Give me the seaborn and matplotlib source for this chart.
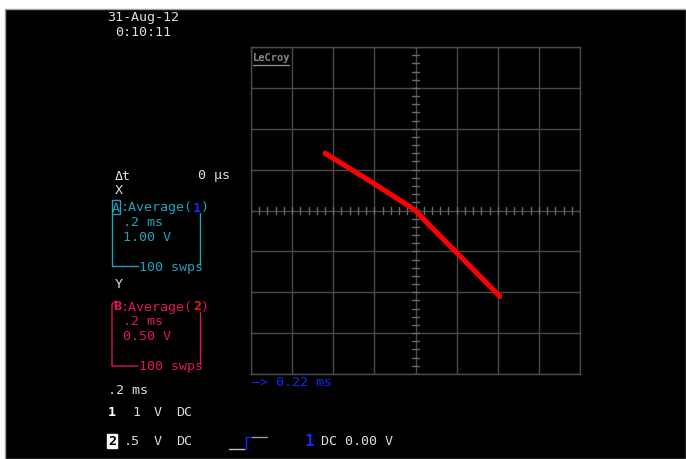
import numpy as np
import pandas as pd
import matplotlib.pyplot as plt
from matplotlib.lines import Line2D
from matplotlib.patches import Rectangle
import seaborn as sns

# XY trace: channel 1 (1 V/div) on X, channel 2 (0.5 V/div) on Y
ch1_volts = [-2.20, -1.20, -0.30, 0.0, 0.34, 0.99, 2.05]
ch2_volts = [0.70, 0.39, 0.10, 0.0, -0.18, -0.51, -1.05]

volts_per_div_x = 1.0
volts_per_div_y = 0.5
n_div = 8

W, H = 686, 460
white = '#dcdcdc'
teal = '#1ea3b8'
pink = '#e0145f'
blue = '#1428ff'
grid_col = '#4a4a4a'

sns.set_style('dark')
fig = plt.figure(figsize=(W / 100, H / 100), dpi=100)
fig.patch.set_facecolor('white')

# black screen
fig.patches.append(Rectangle((5 / W, 0), 1 - 5 / W, 1 - 10 / H, transform=fig.transFigure,
                             facecolor='black', edgecolor='#a0a0a0', lw=1, zorder=-5))

ax = fig.add_axes([251 / W, 1 - 375 / H, 329 / W, 327 / H])
ax.set_zorder(2)
ax.set_facecolor('black')

df = pd.DataFrame({'x': ch1_volts, 'y': ch2_volts})
sns.lineplot(data=df, x='x', y='y', sort=False, estimator=None, color='#ff0000',
             lw=3.7, ax=ax, zorder=5)

xr = n_div / 2 * volts_per_div_x
yr = n_div / 2 * volts_per_div_y
ax.set_xlim(-xr, xr)
ax.set_ylim(-yr, yr)
ax.set_xticks(np.arange(-xr, xr + 0.01, volts_per_div_x))
ax.set_yticks(np.arange(-yr, yr + 0.01, volts_per_div_y))
ax.grid(True, color=grid_col, lw=1)
ax.tick_params(length=0, labelbottom=False, labelleft=False)
ax.set_xlabel('')
ax.set_ylabel('')
for s in ax.spines.values():
    s.set_visible(True)
    s.set_color(grid_col)
    s.set_linewidth(1)

# minor ticks on centre cross
tx = 0.035 * volts_per_div_x * 2.5
ty = 0.035 * volts_per_div_y * 2.5
for v in np.arange(-xr, xr + 0.01, volts_per_div_x / 5):
    ax.plot([v, v], [-ty, ty], color='#6a6a6a', lw=1, zorder=2)
for v in np.arange(-yr, yr + 0.01, volts_per_div_y / 5):
    ax.plot([-tx, tx], [v, v], color='#6a6a6a', lw=1, zorder=2)

ax.text(0.006, 0.985, 'LeCroy', transform=ax.transAxes, color='#8a8a8a', fontsize=7.5,
        family='DejaVu Sans Mono', weight='bold', va='top', ha='left')
ax.plot([0.006, 0.115], [0.945, 0.945], transform=ax.transAxes, color='#8a8a8a', lw=1)

mono = 'DejaVu Sans Mono'
fs = 9.6


def txt(x, y, s, color=white, **kw):
    kw.setdefault('fontsize', fs)
    fig.text(x / W, 1 - y / H, s, color=color, family=mono, va='center', ha='left', **kw)


def line(xs, ys, color):
    fig.lines.append(Line2D([x / W for x in xs], [1 - y / H for y in ys],
                            transform=fig.transFigure, color=color, lw=1))


txt(107, 17, '31-Aug-12')
txt(115, 32, '0:10:11')
txt(115, 176, 'Δt')
txt(198, 176, '0 μs')
txt(115, 190, 'X')

# channel A block
txt(112, 208, 'A', color=teal, bbox=dict(boxstyle='square,pad=0.02', fc='black', ec=teal, lw=1))
txt(121, 208, ':Average(', color=teal)
txt(193, 208, '1', color=blue, weight='bold')
txt(201, 208, ')', color=teal)
txt(123, 223, '.2 ms', color=teal)
txt(123, 238, '1.00 V', color=teal)
txt(139, 268, '100 swps', color=teal)
line([112, 112, 138], [214, 267, 267], teal)
line([200, 200], [214, 266], teal)

txt(115, 285, 'Y')

# channel B block
txt(113, 307, 'B', color=pink, weight='bold')
txt(121, 307, ':Average(', color=pink)
txt(193, 307, '2', color='#ff1010', weight='bold')
txt(201, 307, ')', color=pink)
txt(123, 322, '.2 ms', color=pink)
txt(123, 337, '0.50 V', color=pink)
txt(139, 367, '100 swps', color=pink)
line([116, 112, 112, 138], [302, 305, 367, 367], pink)
line([200, 200], [313, 365], pink)

# bottom status
txt(252, 383, '—> 0.22 ms', color=blue)
txt(108, 391, '.2 ms')
txt(108, 412, '1', color='white', weight='bold')
txt(132, 412, '1')
txt(154, 412, 'V')
txt(176, 412, 'DC')
txt(108, 442, '2', color='black', weight='bold',
    bbox=dict(boxstyle='square,pad=0.05', fc='white', ec='white'))
txt(124, 442, '.5')
txt(154, 442, 'V')
txt(176, 442, 'DC')
txt(305, 442, '1', color=blue, fontsize=11.5, weight='bold')
txt(321, 442, 'DC 0.00 V')

# trigger symbol
line([229, 245], [450, 450], '#c0c0c0')
line([245, 246, 246, 252], [450, 450, 438, 438], blue)
line([252, 267], [438, 438], '#9a9a9a')

fig.savefig('out.png', dpi=100, facecolor=fig.get_facecolor())
